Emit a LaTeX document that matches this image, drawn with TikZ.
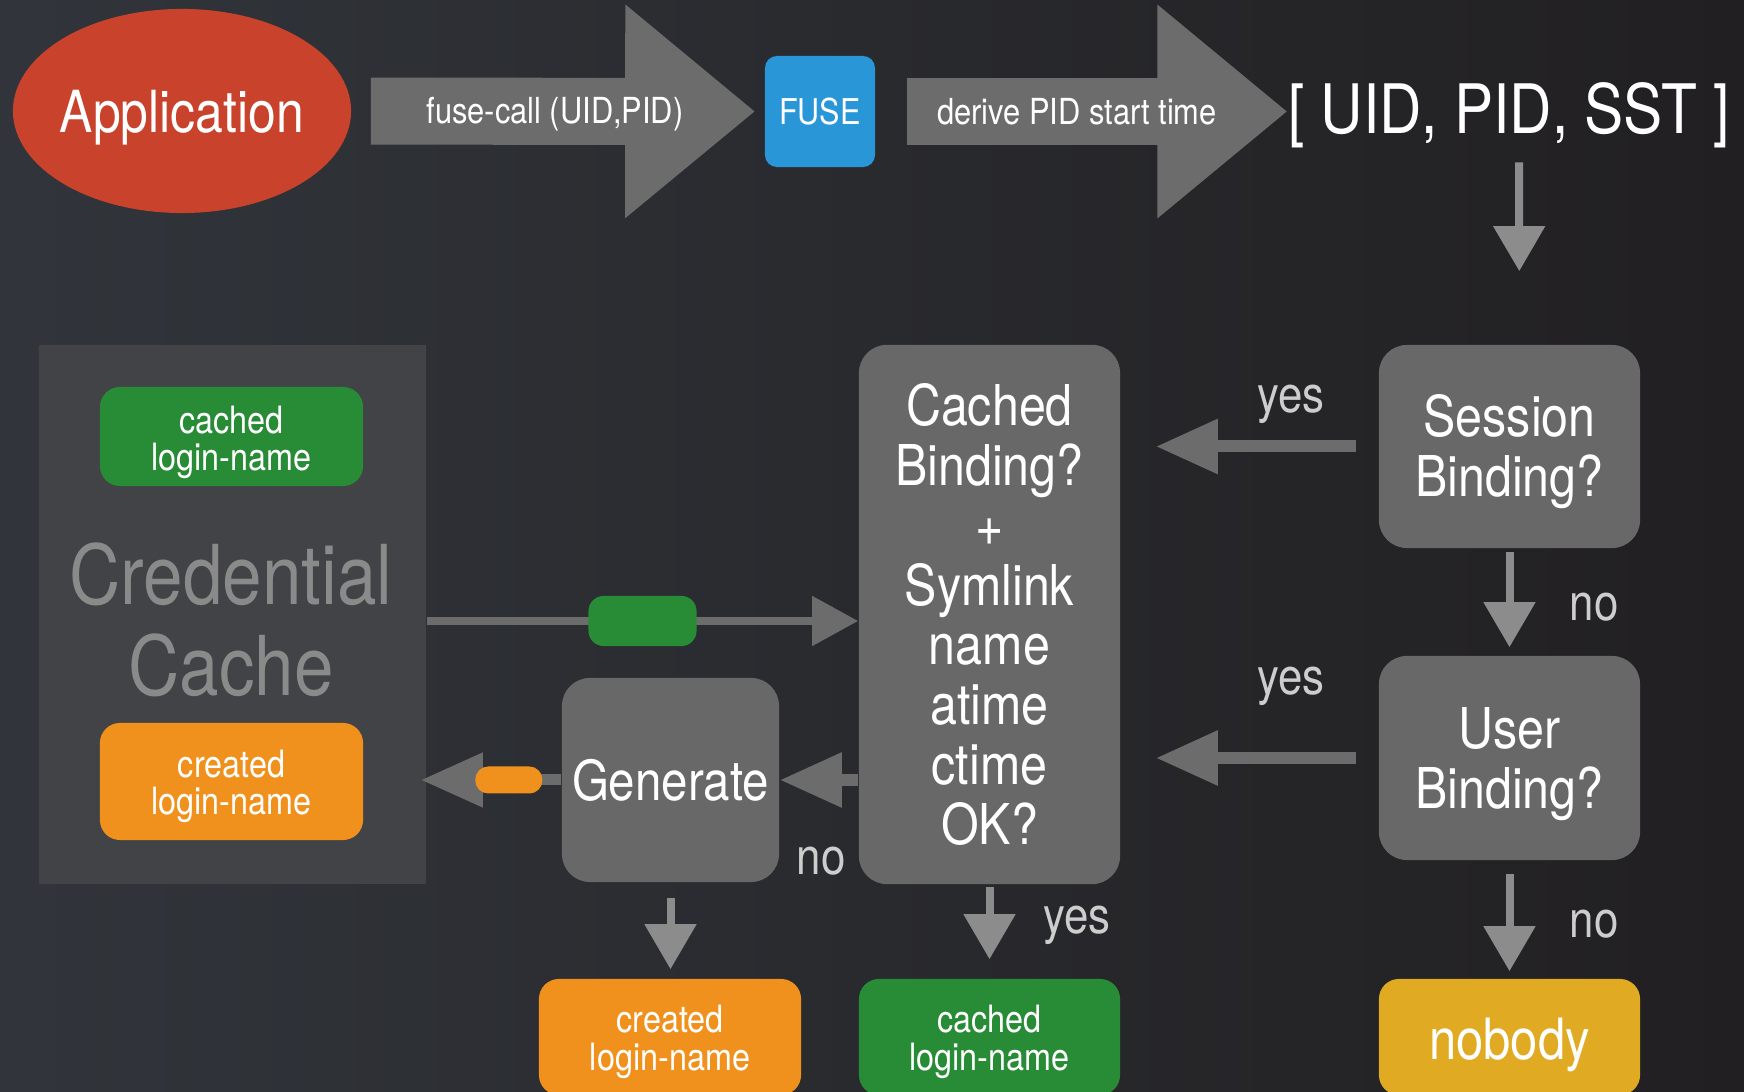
\documentclass[tikz,border=0pt]{standalone}
\usepackage{fontspec}
\setmainfont{TeX Gyre Heros}[FakeStretch=0.86]
\usetikzlibrary{arrows.meta,shapes.geometric}

\definecolor{bgleft}{RGB}{49,53,59}
\definecolor{bgright}{RGB}{33,31,33}
\definecolor{boxgray}{RGB}{104,104,105}
\definecolor{cachegray}{RGB}{66,67,70}
\definecolor{cachetxt}{RGB}{138,138,138}
\definecolor{arrowgray}{RGB}{108,108,108}
\definecolor{sketchgray}{RGB}{140,140,140}
\definecolor{lblgray}{RGB}{205,205,205}
\definecolor{appred}{RGB}{200,66,44}
\definecolor{fuseblue}{RGB}{40,150,215}
\definecolor{okgreen}{RGB}{40,140,55}
\definecolor{neworange}{RGB}{240,145,30}
\definecolor{nobodyyellow}{RGB}{225,170,35}

% taller first line, pushes the text down in its box
\newcommand{\topgap}[1]{\rule{0pt}{#1}}

\begin{document}
\begin{tikzpicture}[x=0.01cm,y=-0.01cm,
    box/.style={fill=boxgray,rounded corners=0.28cm,text=white,align=center,
        minimum width=2.61cm,inner sep=0pt,font=\fontsize{16}{17}\selectfont},
    pill/.style={rounded corners=0.2cm,text=white,align=center,
        minimum width=2.63cm,inner sep=0pt,font=\fontsize{10.7}{10.6}\selectfont},
    bigarrow/.style={draw=arrowgray,line width=0.67cm,
        -{Triangle[width=2.05cm,length=1.3cm]}},
    flow/.style={draw=arrowgray,line width=0.12cm,
        -{Triangle[width=0.52cm,length=0.62cm]}},
    sketch/.style={draw=sketchgray,line width=0.08cm,
        -{Triangle[width=0.5cm,length=0.45cm]}},
    arrowtxt/.style={text=white,font=\fontsize{10.2}{12}\selectfont},
    lbl/.style={text=lblgray,font=\fontsize{14.5}{16}\selectfont}]

    \useasboundingbox (0,0) rectangle (1744,1092);
    \shade[left color=bgleft,right color=bgright] (0,0) rectangle (1744,1092);

    % === Top row: application -> FUSE -> triple ===
    \node[ellipse,fill=appred,minimum width=3.38cm,minimum height=2.04cm,inner sep=0pt,
        text=white,font=\fontsize{16.5}{18}\selectfont] (app) at (182,111)
        {\makebox[0pt]{\topgap{15.7pt}Application}};
    \node[fill=fuseblue,rounded corners=0.12cm,minimum width=1.1cm,minimum height=1.11cm,
        text=white,font=\fontsize{10.1}{12}\selectfont] (fuse) at (820,111.5) {FUSE};
    \node[text=white,inner sep=0pt,font=\fontsize{19.4}{21}\selectfont]
        (sst) at (1509,115) {[ UID, PID, SST ]};

    \draw[bigarrow,shorten <=0.19cm,shorten >=0.09cm] (app) -- (fuse);
    \draw[bigarrow,shorten <=0.31cm] (fuse) -- (sst.west |- fuse.east);
    \node[arrowtxt] (calltxt) at (555,114) {fuse-call (UID,PID)};
    \node[arrowtxt] (derivetxt) at (1077,112) {derive PID start time};

    % === Credential cache ===
    \node[fill=cachegray,minimum width=3.87cm,minimum height=5.39cm,inner sep=0pt]
        (cache) at (232.5,614.5) {};
    \node[text=cachetxt,align=center,font=\fontsize{23.5}{26}\selectfont]
        (cachelbl) at (231,620) {Credential\\Cache};
    \node[pill,fill=okgreen,minimum height=0.99cm] (gcache) at (231.5,436.5)
        {\topgap{11pt}cached\\login-name};
    \node[pill,fill=neworange,minimum height=1.17cm] (ocache) at (231.5,781.5)
        {\topgap{10.6pt}created\\login-name};

    % === Decision boxes ===
    \node[box,minimum height=5.39cm] (cb) at (989.5,614.5)
        {Cached\\Binding?\\+\\Symlink\\name\\atime\\ctime\\OK?};
    \node[box,minimum height=2.03cm] (sess) at (1509.5,446.5) {\topgap{15pt}Session\\Binding?};
    \node[box,minimum height=2.04cm] (user) at (1509.5,758) {\topgap{15pt}User\\Binding?};
    \node[box,minimum width=2.17cm,minimum height=2.04cm,font=\fontsize{15.7}{17}\selectfont]
        (gen) at (670.5,780) {Generate};

    % === Results ===
    \node[pill,fill=neworange,minimum width=2.62cm,minimum height=1.16cm] (outc) at (670,1037)
        {\topgap{10.6pt}created\\login-name};
    \node[pill,fill=okgreen,minimum width=2.61cm,minimum height=1.16cm] (outk) at (989.5,1037)
        {\topgap{10.6pt}cached\\login-name};
    \node[pill,fill=nobodyyellow,minimum width=2.61cm,minimum height=1.16cm,
        font=\fontsize{16.2}{17}\selectfont] (nobody) at (1509.5,1037) {\topgap{16.2pt}nobody};

    % Horizontal flows
    \draw[flow,shorten <=0.22cm,shorten >=0.35cm] (sess.west) -- (sess.west -| cb.east);
    \draw[flow,shorten <=0.22cm,shorten >=0.35cm] (user.west) -- (user.west -| cb.east);
    \draw[flow] (cb.west |- gen.east) -- (gen.east);
    \draw[flow,line width=0.11cm,shorten >=-0.06cm] (gen.west) -- node[pos=0.39,fill=neworange,rounded corners=0.13cm,
        minimum width=0.67cm,minimum height=0.27cm,inner sep=0pt] (opill) {} (gen.west -| cache.east);
    \draw[flow,line width=0.08cm,-{Triangle[width=0.48cm,length=0.46cm]}]
        (cache.east |- 0,621) -- node[pos=0.5,fill=okgreen,rounded corners=0.15cm,
        minimum width=1.08cm,minimum height=0.5cm,inner sep=0pt] (gpill) {} (cb.west |- 0,621);

    % Downward checks
    \draw[sketch,shorten <=0.14cm,shorten >=0.73cm] ([xshift=0.1cm]sst.south) -- ([xshift=0.1cm]sess.north);
    \draw[sketch,shorten <=0.03cm,shorten >=0.08cm] (sess) -- (user);
    \draw[sketch,shorten <=0.13cm,shorten >=0.07cm] (user) -- (nobody);
    \draw[sketch,shorten <=0.15cm,shorten >=0.09cm] (gen) -- (gen |- outc.north);
    \draw[sketch,shorten <=0.02cm,shorten >=0.19cm] (cb) -- (outk);

    % Labels
    \node[lbl] (yes1) at (1291,404) {yes};
    \node[lbl] (yes2) at (1291,686) {yes};
    \node[lbl] (no1) at (1594,607) {no};
    \node[lbl] (no2) at (1594,924) {no};
    \node[lbl] (no3) at (821,861) {no};
    \node[lbl] (yes3) at (1077,925) {yes};
\end{tikzpicture}
\end{document}
